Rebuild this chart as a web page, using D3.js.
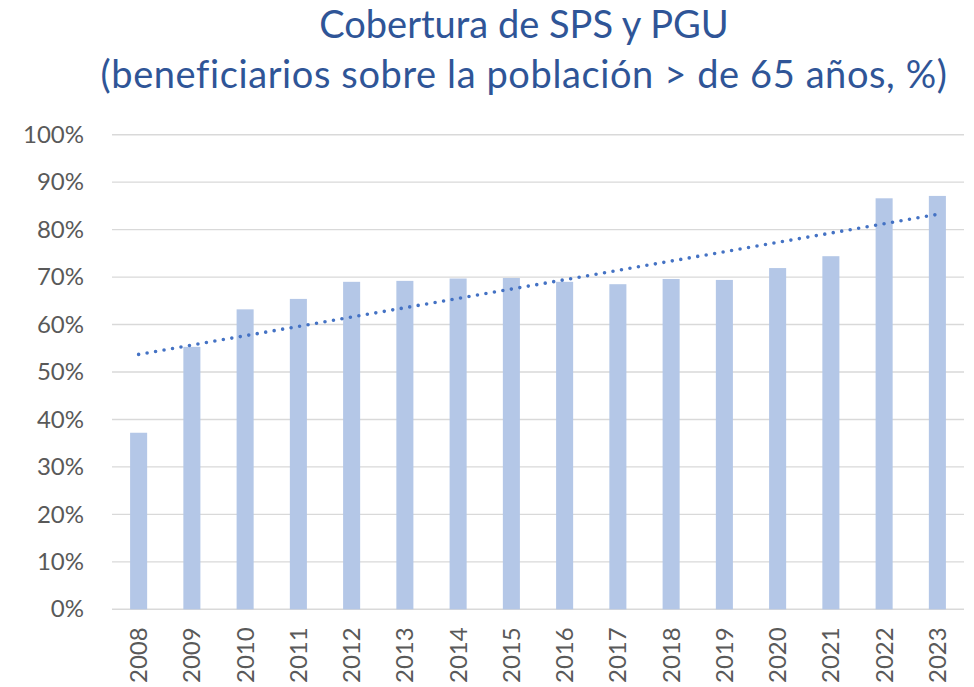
<!DOCTYPE html>
<html>
<head>
<meta charset="utf-8">
<title>Cobertura de SPS y PGU</title>
<script src="https://d3js.org/d3.v7.min.js"></script>
<style>
  body { margin: 0; background: #fff; }
  text { font-family: Lato, "Open Sans", sans-serif; }
</style>
</head>
<body>
<script>
// data
var years = ["2008","2009","2010","2011","2012","2013","2014","2015",
             "2016","2017","2018","2019","2020","2021","2022","2023"];
var coverage = [37.2, 55.3, 63.2, 65.4, 69.0, 69.2, 69.7, 69.8,
                69.0, 68.5, 69.6, 69.4, 71.9, 74.4, 86.6, 87.1];
var yTicks = [0, 10, 20, 30, 40, 50, 60, 70, 80, 90, 100];
var titleLines = ["Cobertura de SPS y PGU",
                  "(beneficiarios sobre la población > de 65 años, %)"];

var w = 974, h = 687;
var plotLeft = 112, plotRight = 964, plotTop = 134.7, plotBottom = 609.3;

var svg = d3.select("body").append("svg")
  .attr("width", w)
  .attr("height", h);

var x = d3.scaleBand()
  .domain(years)
  .range([plotLeft, plotRight])
  .paddingInner(0.68)
  .paddingOuter(0.34);

var y = d3.scaleLinear()
  .domain([0, 100])
  .range([plotBottom, plotTop]);

// gridlines
svg.append("g")
  .selectAll("line")
  .data(yTicks)
  .enter()
  .append("line")
  .attr("x1", plotLeft)
  .attr("x2", plotRight)
  .attr("y1", function(d) { return y(d); })
  .attr("y2", function(d) { return y(d); })
  .attr("stroke", "#d9d9d9")
  .attr("stroke-width", 1.4);

// y axis labels
var yAxis = d3.axisLeft(y)
  .tickValues(yTicks)
  .tickFormat(function(d) { return d + "%"; })
  .tickSize(0)
  .tickPadding(28);

svg.append("g")
  .attr("transform", "translate(" + plotLeft + ",0)")
  .call(yAxis)
  .call(function(g) { g.select(".domain").remove(); })
  .selectAll("text")
  .attr("font-family", "Lato, sans-serif")
  .attr("font-size", "24px")
  .attr("fill", "#595959");

// bars
svg.append("g")
  .selectAll("rect")
  .data(coverage)
  .enter()
  .append("rect")
  .attr("x", function(d, i) { return x(years[i]); })
  .attr("y", function(d) { return y(d); })
  .attr("width", x.bandwidth())
  .attr("height", function(d) { return y(0) - y(d); })
  .attr("fill", "#b4c7e7");

// x axis labels, rotated
var xAxis = d3.axisBottom(x).tickSize(0).tickPadding(0);
svg.append("g")
  .attr("transform", "translate(0," + plotBottom + ")")
  .call(xAxis)
  .call(function(g) { g.select(".domain").remove(); })
  .selectAll("text")
  .attr("font-family", "Lato, sans-serif")
  .attr("font-size", "24px")
  .attr("fill", "#595959")
  .attr("text-anchor", "end")
  .attr("dy", "0.35em")
  .attr("transform", "translate(0,18) rotate(-90)")
  .attr("x", 0)
  .attr("y", 0);

// linear trendline (least squares over the bars)
var n = coverage.length;
var mx = d3.mean(d3.range(n));
var my = d3.mean(coverage);
var sxy = d3.sum(coverage, function(d, i) { return (i - mx) * (d - my); });
var sxx = d3.sum(d3.range(n), function(i) { return (i - mx) * (i - mx); });
var slope = sxy / sxx;
var icpt = my - slope * mx;

var trend = [0, n - 1].map(function(i) {
  return [x(years[i]) + x.bandwidth() / 2, y(icpt + slope * i)];
});

svg.append("path")
  .attr("d", d3.line()(trend))
  .attr("fill", "none")
  .attr("stroke", "#4472c4")
  .attr("stroke-width", 3.6)
  .attr("stroke-linecap", "round")
  .attr("stroke-dasharray", "0,8.6");

// title
svg.append("g")
  .selectAll("text")
  .data(titleLines)
  .enter()
  .append("text")
  .attr("x", 524)
  .attr("y", function(d, i) { return 38 + i * 50; })
  .attr("text-anchor", "middle")
  .attr("font-family", "Lato, sans-serif")
  .attr("font-size", "38px")
  .attr("letter-spacing", function(d, i) { return i === 1 ? "0.6px" : "0px"; })
  .attr("fill", "#2f5597")
  .text(function(d) { return d; });
</script>
</body>
</html>
